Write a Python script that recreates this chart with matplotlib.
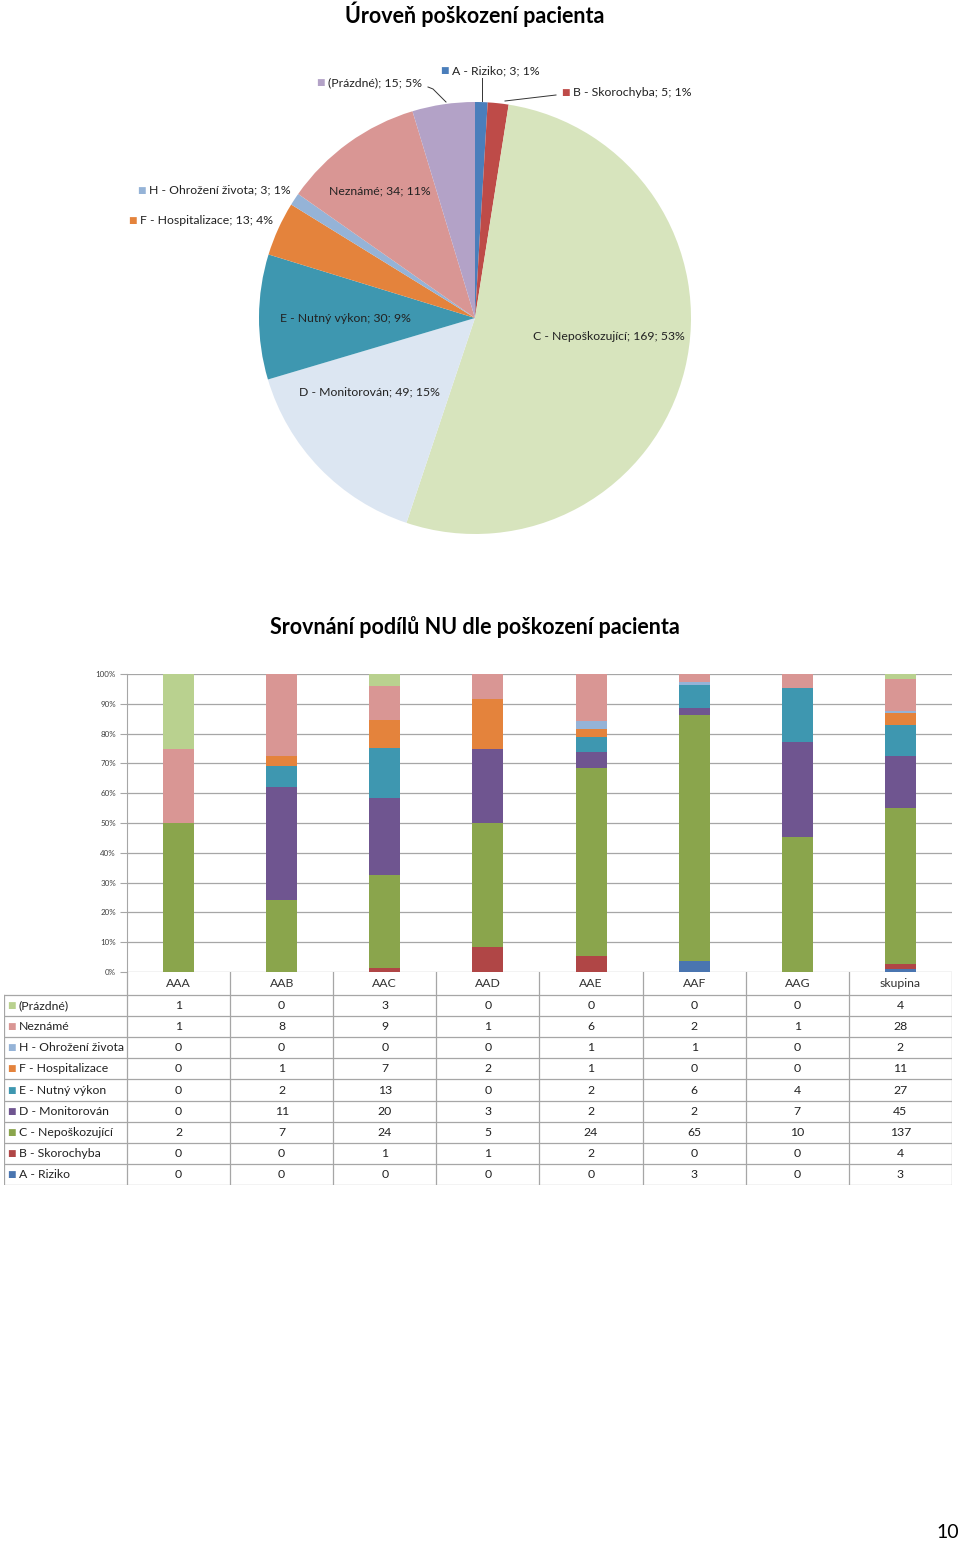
import matplotlib.pyplot as plt
from matplotlib.lines import Line2D
import numpy as np

plt.rcParams['font.family'] = ['Lato', 'DejaVu Sans']

W, H = 960, 1543

# --- data ---
pie_labels = ["A - Riziko", "B - Skorochyba", "C - Nepoškozující", "D - Monitorován",
              "E - Nutný výkon", "F - Hospitalizace", "H - Ohrožení života",
              "Neznámé", "(Prázdné)"]
pie_values = [3, 5, 169, 49, 30, 13, 3, 34, 15]
pie_pct = [1, 1, 53, 15, 9, 4, 1, 11, 5]
pie_colors = ["#4a7ebb", "#be4b48", "#d7e4bd", "#dce6f2", "#3e97b0",
              "#e4833c", "#95b3d7", "#d99694", "#b3a2c7"]

groups = ["AAA", "AAB", "AAC", "AAD", "AAE", "AAF", "AAG", "skupina"]
series = ["(Prázdné)", "Neznámé", "H - Ohrožení života", "F - Hospitalizace",
          "E - Nutný výkon", "D - Monitorován", "C - Nepoškozující",
          "B - Skorochyba", "A - Riziko"]
counts = [
    [1, 0, 3, 0, 0, 0, 0, 4],
    [1, 8, 9, 1, 6, 2, 1, 28],
    [0, 0, 0, 0, 1, 1, 0, 2],
    [0, 1, 7, 2, 1, 0, 0, 11],
    [0, 2, 13, 0, 2, 6, 4, 27],
    [0, 11, 20, 3, 2, 2, 7, 45],
    [2, 7, 24, 5, 24, 65, 10, 137],
    [0, 0, 1, 1, 2, 0, 0, 4],
    [0, 0, 0, 0, 0, 3, 0, 3],
]
bar_colors = ["#b9d18f", "#d99694", "#95b3d7", "#e4833c", "#3e97b0",
              "#6f5590", "#8aa54c", "#b04646", "#4a75b0"]


def fx(x):
    return x / W


def fy(y):
    return 1 - y / H


fig = plt.figure(figsize=(9.6, 15.43), dpi=100)

# --- pie chart ---
fig.text(fx(475), fy(14), "Úroveň poškození pacienta", ha="center", va="center",
         fontsize=15.5, fontweight="bold")
ax_pie = fig.add_axes([fx(259), fy(534), 432 / W, 432 / H])
ax_pie.pie(pie_values, colors=pie_colors, startangle=90, counterclock=False,
           radius=1, wedgeprops=dict(linewidth=0))
ax_pie.set_xlim(-1, 1)
ax_pie.set_ylim(-1, 1)
ax_pie.axis("off")

lbl = [f"{n}; {v}; {p}%" for n, v, p in zip(pie_labels, pie_values, pie_pct)]
fs = 8.8
# outside labels with key squares (index, text x, y)
outside = [(0, 452, 71), (1, 573, 93), (8, 328, 83), (6, 149, 190), (5, 140, 220)]
for i, x, y in outside:
    fig.text(fx(x - 3), fy(y), "■", color=pie_colors[i], ha="right", va="center",
             fontsize=6.5, family="DejaVu Sans")
    fig.text(fx(x), fy(y), lbl[i], ha="left", va="center", fontsize=fs, color="#222222")
# inside labels
inside = [(7, 380, 191), (4, 345, 318), (2, 609, 337), (3, 369, 392)]
for i, x, y in inside:
    fig.text(fx(x), fy(y), lbl[i], ha="center", va="center", fontsize=fs, color="#222222")
# leader lines
for xs, ys in [([482, 482], [78, 101]), ([556, 505], [95, 101]),
               ([428, 433, 446], [87, 89, 102])]:
    fig.add_artist(Line2D([fx(v) for v in xs], [fy(v) for v in ys], color="#333333",
                          lw=0.7, transform=fig.transFigure))

# --- stacked 100% bar chart ---
fig.text(fx(475), fy(627), "Srovnání podílů NU dle poškození pacienta", ha="center",
         va="center", fontsize=15.5, fontweight="bold")
ax = fig.add_axes([fx(127), fy(972), (952 - 127) / W, (972 - 674) / H])
cnt = np.array(counts, dtype=float)
frac = cnt / cnt.sum(axis=0)
x = np.arange(len(groups))
bottom = np.zeros(len(groups))
for k in range(len(series) - 1, -1, -1):
    ax.bar(x, frac[k], 0.3, bottom=bottom, color=bar_colors[k], zorder=3)
    bottom += frac[k]
ax.set_xlim(-0.5, len(groups) - 0.5)
ax.set_ylim(0, 1)
ax.set_yticks(np.arange(0, 1.01, 0.1))
ax.set_yticklabels([f"{int(round(v * 100))}%" for v in np.arange(0, 1.01, 0.1)],
                   fontsize=5.8, color="#404040")
ax.set_xticks([])
ax.grid(axis="y", color="#a6a6a6", lw=0.9, zorder=0)
ax.tick_params(axis="y", length=5, color="#a6a6a6", pad=3)
for s in ["top", "right", "bottom"]:
    ax.spines[s].set_visible(False)
ax.spines["left"].set_color("#a6a6a6")

# --- data table ---
tab = fig.add_axes([fx(4), fy(1185), 948 / W, (1185 - 972) / H])
tab.set_xlim(4, 952)
tab.set_ylim(1185, 972)
tab.axis("off")
col_w = (952 - 127) / len(groups)
col_edges = [127 + col_w * i for i in range(len(groups) + 1)]
row_h = (1185 - 995) / len(series)
row_edges = [995 + row_h * i for i in range(len(series) + 1)]
lc = "#a6a6a6"
for xe in col_edges:
    tab.plot([xe, xe], [972, 1185], color=lc, lw=0.9)
tab.plot([4, 4], [995, 1185], color=lc, lw=0.9)
for ye in row_edges:
    tab.plot([4, 952], [ye, ye], color=lc, lw=0.9)
for j, g in enumerate(groups):
    tab.text(col_edges[j] + col_w / 2, 983.5, g, ha="center", va="center",
             fontsize=8.8, color="#333333")
for i, s in enumerate(series):
    yc = row_edges[i] + row_h / 2
    tab.text(7, yc, "■", color=bar_colors[i], ha="left", va="center",
             fontsize=6.5, family="DejaVu Sans")
    tab.text(19, yc, s, ha="left", va="center", fontsize=8.8, color="#222222")
    for j in range(len(groups)):
        tab.text(col_edges[j] + col_w / 2, yc, str(counts[i][j]), ha="center",
                 va="center", fontsize=8.8, color="#222222")

fig.text(fx(948), fy(1532), "10", ha="center", va="center", fontsize=14)

fig.savefig("out.png", dpi=100)
